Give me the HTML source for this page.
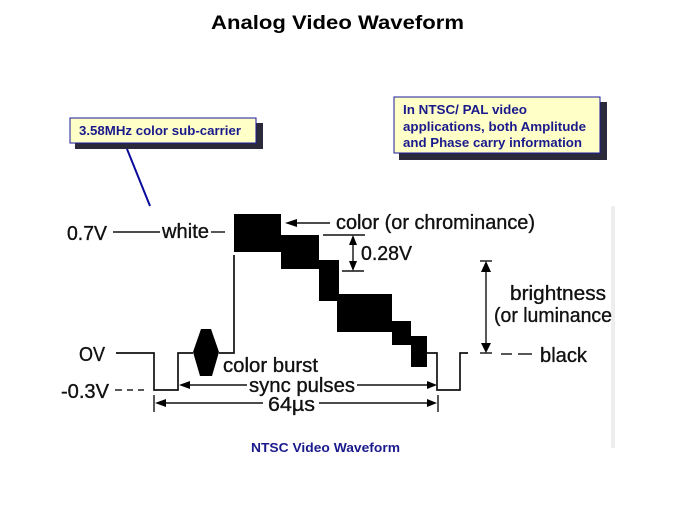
<!DOCTYPE html>
<html>
<head>
<meta charset="utf-8">
<style>
html,body{margin:0;padding:0;background:#fff;}
body{width:674px;height:506px;overflow:hidden;position:relative;}
svg{position:absolute;left:0;top:0;}
.s{font-family:"Liberation Sans",sans-serif;fill:#111;stroke:#111;stroke-width:0.35;}
.b{font-family:"Liberation Sans",sans-serif;font-weight:bold;fill:#1a1a8c;}
.l{stroke:#111;fill:none;}
</style>
</head>
<body>
<svg width="674" height="506" viewBox="0 0 674 506">
<rect width="674" height="506" fill="#fff"/>
<rect x="611" y="206" width="4" height="242" fill="#eeeeee"/>

<text x="211" y="29" textLength="253" lengthAdjust="spacingAndGlyphs" font-family="Liberation Sans, sans-serif" font-weight="bold" font-size="19.5" fill="#000">Analog Video Waveform</text>

<!-- left callout -->
<rect x="75" y="123" width="188" height="26" fill="#2a2a3a"/>
<rect x="70" y="118" width="186" height="25" fill="#ffffc8" stroke="#1a1a9c" stroke-width="1"/>
<text class="b" x="79" y="135" font-size="13" textLength="162" lengthAdjust="spacingAndGlyphs">3.58MHz color sub-carrier</text>
<line x1="127" y1="149" x2="150" y2="206" stroke="#0a0a9c" stroke-width="2"/>

<!-- right callout -->
<rect x="399" y="102" width="208" height="58" fill="#2a2a3a"/>
<rect x="394" y="97" width="206" height="56" fill="#ffffc8" stroke="#1a1a9c" stroke-width="1"/>
<text class="b" x="403" y="114" font-size="13" textLength="124" lengthAdjust="spacingAndGlyphs">In NTSC/ PAL video</text>
<text class="b" x="403" y="131" font-size="13" textLength="183" lengthAdjust="spacingAndGlyphs">applications, both Amplitude</text>
<text class="b" x="403" y="147" font-size="13" textLength="179" lengthAdjust="spacingAndGlyphs">and Phase carry information</text>

<!-- blocks -->
<g fill="#000">
<rect x="234" y="214" width="47" height="38"/>
<rect x="281" y="235" width="38" height="34"/>
<rect x="319" y="260" width="20" height="41"/>
<rect x="337" y="294" width="55" height="38"/>
<rect x="392" y="321" width="19" height="24"/>
<rect x="411" y="336" width="16" height="31"/>
<polygon points="201,329 211,329 219,352 212,376 200,376 193,352"/>
</g>

<!-- waveform -->
<g class="l" stroke-width="1.7">
<polyline points="116,353 154,353 154,390 178,390 178,353 193,353"/>
<polyline points="219,353 234,353 234,255"/>
<polyline points="427,353 437,353 437,390 460,390 460,353 468,353"/>
</g>

<!-- level lines -->
<g class="l" stroke-width="1.4">
<line x1="113" y1="232" x2="160" y2="232"/>
<line x1="211" y1="232" x2="225" y2="232"/>
<line x1="115" y1="390" x2="122" y2="390"/>
<line x1="127" y1="390" x2="133" y2="390"/>
<line x1="138" y1="390" x2="144" y2="390"/>
<line x1="297" y1="223" x2="330" y2="223"/>
<line x1="323" y1="235" x2="365" y2="235"/>
<line x1="342" y1="271" x2="364" y2="271"/>
<line x1="353" y1="240" x2="353" y2="266"/>
<line x1="480" y1="261" x2="492" y2="261"/>
<line x1="486" y1="266" x2="486" y2="349"/>
<line x1="480" y1="353" x2="492" y2="353"/>
<line x1="501" y1="354" x2="512" y2="354"/>
<line x1="518" y1="354" x2="532" y2="354"/>
<line x1="184" y1="385" x2="247" y2="385"/>
<line x1="357" y1="385" x2="428" y2="385"/>
<line x1="160" y1="403" x2="263" y2="403"/>
<line x1="319" y1="403" x2="430" y2="403"/>
<line x1="154" y1="395" x2="154" y2="412"/>
<line x1="438" y1="395" x2="438" y2="412"/>
</g>

<!-- arrowheads -->
<g fill="#000">
<polygon points="285,223 297,219 297,227"/>
<polygon points="353,235 349,245 357,245"/>
<polygon points="353,271 349,261 357,261"/>
<polygon points="486,261 481,272 491,272"/>
<polygon points="486,353 481,343 491,343"/>
<polygon points="179,385 190,381 190,389"/>
<polygon points="437,385 427,381 427,389"/>
<polygon points="155,403 166,399 166,407"/>
<polygon points="437,403 427,399 427,407"/>
</g>

<!-- labels -->
<g class="s" font-size="20">
<text x="67" y="240" textLength="40" lengthAdjust="spacingAndGlyphs">0.7V</text>
<text x="162" y="238" textLength="47" lengthAdjust="spacingAndGlyphs">white</text>
<text x="336" y="229" textLength="199" lengthAdjust="spacingAndGlyphs">color (or chrominance)</text>
<text x="361" y="260" textLength="51" lengthAdjust="spacingAndGlyphs">0.28V</text>
<text x="510" y="300" textLength="96" lengthAdjust="spacingAndGlyphs">brightness</text>
<text x="494" y="322" textLength="118" lengthAdjust="spacingAndGlyphs">(or luminance</text>
<text x="540" y="362" textLength="47" lengthAdjust="spacingAndGlyphs">black</text>
<text x="79" y="361" textLength="26" lengthAdjust="spacingAndGlyphs">OV</text>
<text x="61" y="398" textLength="48" lengthAdjust="spacingAndGlyphs">-0.3V</text>
<text x="223" y="372" textLength="95" lengthAdjust="spacingAndGlyphs">color burst</text>
<text x="249" y="392" textLength="106" lengthAdjust="spacingAndGlyphs">sync pulses</text>
<text x="268" y="411" textLength="47" lengthAdjust="spacingAndGlyphs">64µs</text>
</g>

<text x="251" y="452" class="b" font-size="13" textLength="149" lengthAdjust="spacingAndGlyphs">NTSC Video Waveform</text>
</svg>
</body>
</html>
